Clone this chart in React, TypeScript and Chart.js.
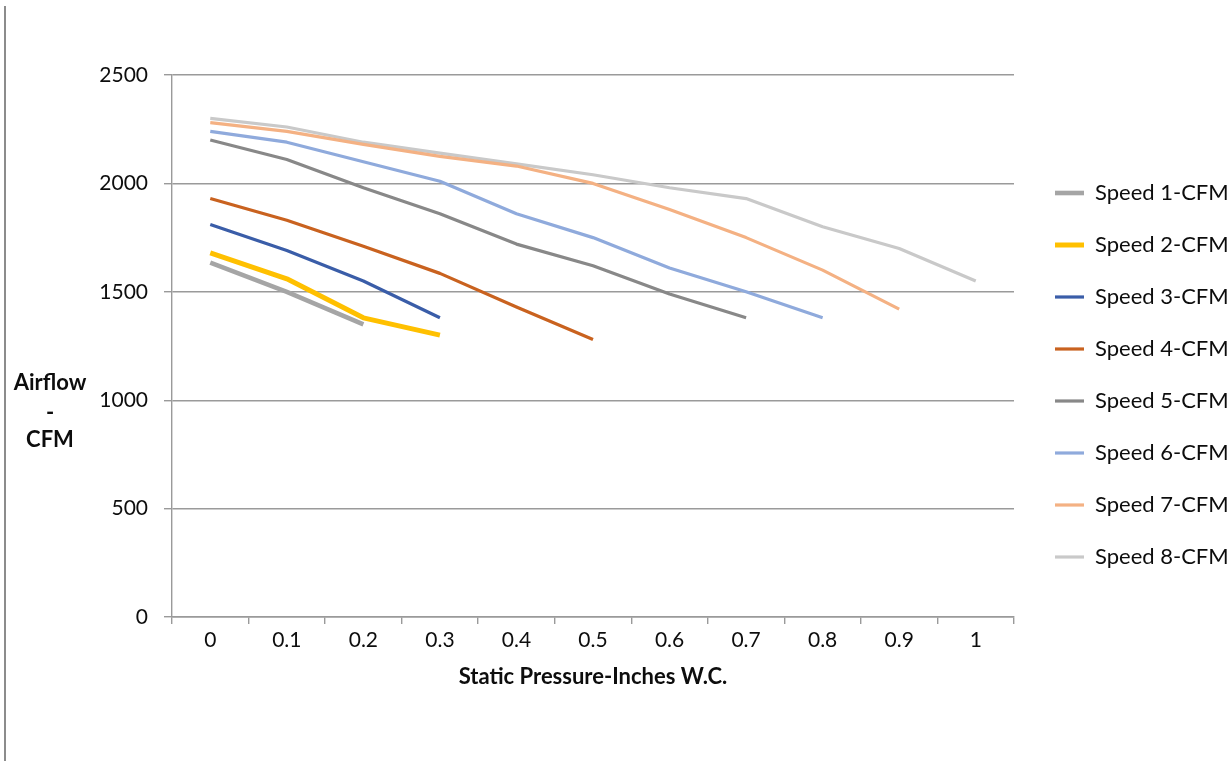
import React, { useEffect, useRef } from "react";
import { Chart, registerables } from "chart.js";

Chart.register(...registerables);

const categories = ["0", "0.1", "0.2", "0.3", "0.4", "0.5", "0.6", "0.7", "0.8", "0.9", "1"];

const speed1 = [1635, 1500, 1350];
const speed2 = [1680, 1560, 1380, 1300];
const speed3 = [1810, 1690, 1550, 1380];
const speed4 = [1930, 1830, 1710, 1585, 1430, 1280];
const speed5 = [2200, 2110, 1980, 1860, 1720, 1620, 1490, 1380];
const speed6 = [2240, 2190, 2100, 2010, 1860, 1750, 1610, 1500, 1380];
const speed7 = [2280, 2240, 2180, 2125, 2080, 2000, 1880, 1750, 1600, 1420];
const speed8 = [2300, 2260, 2190, 2140, 2090, 2040, 1980, 1930, 1800, 1700, 1550];

const seriesNames = [
  "Speed 1-CFM",
  "Speed 2-CFM",
  "Speed 3-CFM",
  "Speed 4-CFM",
  "Speed 5-CFM",
  "Speed 6-CFM",
  "Speed 7-CFM",
  "Speed 8-CFM",
];
const seriesValues = [speed1, speed2, speed3, speed4, speed5, speed6, speed7, speed8];
const seriesColors = ["#A5A5A5", "#FFC000", "#3A5DA8", "#C9621F", "#888888", "#8FAADC", "#F4B183", "#C9C9C9"];
const seriesWidths = [4.6, 5, 3.2, 3.2, 3.2, 3.2, 3.2, 3.2];

const yTitleLines = ["Airflow", "-", "CFM"];
const xTitle = "Static Pressure-Inches W.C.";

const FONT = "Lato, 'Open Sans', sans-serif";
const TEXT = "#0d0d0d";
const GRID = "#9A9A9A";

const yTitlePlugin = {
  id: "yTitle",
  afterDraw(chart: any) {
    const { ctx, chartArea } = chart;
    ctx.save();
    ctx.font = `bold 22px ${FONT}`;
    ctx.fillStyle = TEXT;
    ctx.textAlign = "center";
    ctx.textBaseline = "middle";
    const x = chartArea.left - 122;
    const mid = (chartArea.top + chartArea.bottom) / 2;
    const offs = [37, 67, 94];
    yTitleLines.forEach((t, i) => ctx.fillText(t, x, mid + offs[i]));
    ctx.restore();
  },
};

export default function App() {
  const ref = useRef<HTMLCanvasElement>(null);
  useEffect(() => {
    if (!ref.current) return;
    const chart = new Chart(ref.current, {
      type: "line",
      data: {
        labels: categories,
        datasets: seriesNames.map((name, i) => ({
          label: name,
          data: seriesValues[i],
          borderColor: seriesColors[i],
          backgroundColor: seriesColors[i],
          borderWidth: seriesWidths[i],
          pointRadius: 0,
          pointHoverRadius: 0,
          tension: 0,
          fill: false,
          borderCapStyle: "butt",
          borderJoinStyle: "round",
          yAxisID: "y",
        })),
      },
      options: {
        animation: false,
        responsive: true,
        maintainAspectRatio: false,
        events: [],
        layout: { padding: { top: 75, left: 0, right: 0, bottom: 0 } },
        plugins: {
          tooltip: { enabled: false },
          legend: {
            position: "right",
            align: "start",
            title: {
              display: true,
              text: "",
              font: { size: 10 },
              padding: { top: 65, bottom: 0 },
            },
            labels: {
              usePointStyle: true,
              pointStyle: "line",
              pointStyleWidth: 29,
              boxHeight: 22,
              padding: 30,
              color: TEXT,
              font: { family: FONT, size: 22 },
            },
          },
        },
        scales: {
          x: {
            type: "category",
            offset: true,
            grid: {
              offset: true,
              drawOnChartArea: false,
              drawTicks: true,
              tickLength: 7,
              color: GRID,
              lineWidth: 1.4,
            },
            border: { display: true, color: GRID, width: 1.4 },
            ticks: {
              color: TEXT,
              font: { family: FONT, size: 21 },
              padding: 4,
              maxRotation: 0,
              autoSkip: false,
            },
            title: {
              display: true,
              text: xTitle,
              color: TEXT,
              font: { family: FONT, size: 22, weight: "bold" },
              padding: { top: 0, bottom: 71 },
            },
            afterFit: (s: any) => {
              s.height = 144;
            },
          },
          y: {
            type: "linear",
            position: "left",
            min: 0,
            max: 2500,
            grid: {
              color: GRID,
              lineWidth: 1.4,
              drawTicks: true,
              tickLength: 8,
            },
            border: { display: true, color: GRID, width: 1.4 },
            ticks: {
              stepSize: 500,
              color: TEXT,
              font: { family: FONT, size: 21 },
              padding: 16,
              callback: (v: any) => String(v),
            },
            afterFit: (s: any) => {
              s.width = 172;
            },
          },
          yR: {
            type: "linear",
            position: "right",
            display: true,
            grid: { display: false, drawTicks: false },
            border: { display: false },
            ticks: { display: false },
            afterFit: (s: any) => {
              s.width = 11;
            },
          },
        },
      },
      plugins: [yTitlePlugin],
    } as any);
    return () => chart.destroy();
  }, []);

  return (
    <div
      style={{
        position: "fixed",
        left: 0,
        top: 0,
        width: 1230,
        height: 761,
        background: "#ffffff",
      }}
    >
      <div
        style={{
          position: "absolute",
          left: 4,
          top: 6,
          width: 2,
          height: 755,
          background: "#8C8C8C",
        }}
      />
      <canvas ref={ref} />
    </div>
  );
}
